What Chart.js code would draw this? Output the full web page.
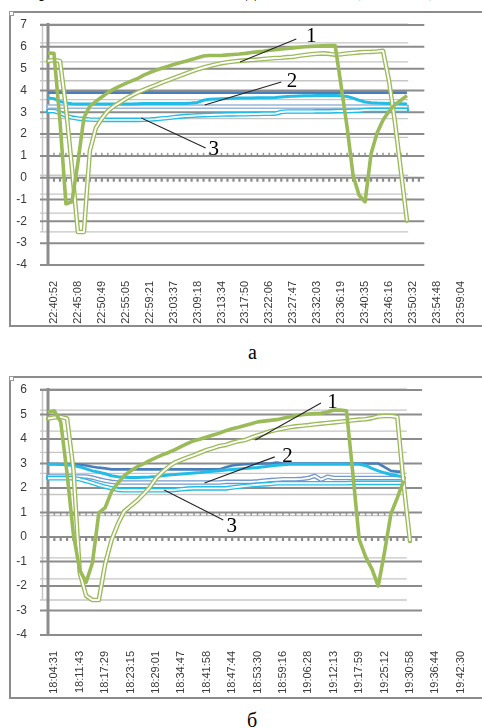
<!DOCTYPE html>
<html><head><meta charset="utf-8">
<script src="https://cdn.jsdelivr.net/npm/chart.js@4.4.1/dist/chart.umd.min.js"></script>
<style>
html,body{margin:0;padding:0;background:#fff;}
body{width:482px;height:728px;position:relative;overflow:hidden;}
.frame{position:absolute;left:9px;width:540px;border:2px solid #8c8c8c;box-sizing:border-box;}
.handle{position:absolute;width:5px;height:5px;border:1px solid #9a9a9a;background:#fff;box-sizing:border-box}
canvas{position:absolute;left:0;}
.cap{position:absolute;font-family:"Liberation Serif","DejaVu Serif",serif;font-size:20px;line-height:20px;color:#000;white-space:nowrap}
</style></head>
<body>
<div class="cap" style="left:39px;top:-21px">р</div>
<div class="cap" style="left:246px;top:-21px">д</div>
<div class="cap" style="left:354px;top:-21px">(</div>
<div class="cap" style="left:429px;top:-21px">)</div>

<div class="frame" style="top:11px;height:316px"></div>
<div class="handle" style="left:9px;top:11px"></div>
<canvas id="chartA" width="482" height="330" style="top:0"></canvas>
<div class="cap" style="left:248px;top:342px">а</div>

<div class="frame" style="top:376px;height:323px"></div>
<div class="handle" style="left:9px;top:376px"></div>
<canvas id="chartB" width="482" height="335" style="top:365px"></canvas>
<div class="cap" style="left:247px;top:710px">б</div>

<script>
// ---------- Panel (а) ----------
const timeLabelsA = ['22:40:52','22:45:08','22:50:49','22:55:05','22:59:21','23:03:37','23:09:18','23:13:34','23:17:50','23:22:06','23:27:47','23:32:03','23:36:19','23:40:35','23:46:16','23:50:32','23:54:48','23:59:04'];
const yTicksA = [7, -4];
const greenA = [5.72,5.7,2.6,-1.2,-1.1,0.7,2.75,3.28,3.5,3.7,3.9,4.06,4.2,4.32,4.44,4.55,4.7,4.82,4.92,5.02,5.1,5.19,5.27,5.34,5.42,5.5,5.58,5.6,5.6,5.6,5.63,5.65,5.67,5.7,5.74,5.77,5.8,5.84,5.87,5.9,5.93,5.95,5.98,6.0,6.02,6.04,6.05,6.06,6.06,4.2,2.3,0.1,-0.8,-1.1,1.1,2.05,2.65,3.05,3.35,3.55,3.76];
const greenDoubleA = [5.05,5.1,5.05,2.6,-0.6,-4.0,-4.0,0.3,1.5,2.0,2.4,2.65,2.85,3.05,3.22,3.38,3.52,3.65,3.77,3.9,4.02,4.14,4.26,4.38,4.5,4.6,4.7,4.78,4.86,4.93,4.98,5.02,5.05,5.08,5.1,5.12,5.15,5.18,5.2,5.22,5.25,5.27,5.32,5.36,5.4,5.43,5.45,5.42,5.38,5.4,5.44,5.47,5.5,5.52,5.53,5.55,5.58,4.0,1.8,-0.8,-3.4];
const cyanA = [3.66,3.62,3.5,3.42,3.39,3.38,3.38,3.38,3.38,3.38,3.38,3.38,3.38,3.38,3.38,3.39,3.4,3.4,3.4,3.4,3.4,3.4,3.4,3.4,3.42,3.45,3.55,3.6,3.61,3.62,3.63,3.64,3.65,3.65,3.65,3.66,3.66,3.67,3.68,3.7,3.72,3.74,3.75,3.76,3.76,3.77,3.77,3.77,3.77,3.76,3.72,3.65,3.55,3.47,3.44,3.42,3.41,3.4,3.4,3.39,3.38];
const blueA = [3.9,3.9,3.9,3.9,3.9,3.9,3.9,3.9,3.9,3.9,3.9,3.9,3.9,3.9,3.9,3.9,3.9,3.9,3.9,3.9,3.9,3.9,3.9,3.9,3.9,3.9,3.9,3.9,3.9,3.9,3.9,3.9,3.9,3.9,3.9,3.9,3.9,3.9,3.9,3.9,3.9,3.9,3.9,3.9,3.9,3.9,3.9,3.9,3.9,3.9,3.9,3.9,3.9,3.9,3.9,3.9,3.9,3.9,3.9,3.9,3.9];
const cyanDoubleA = [2.4,2.4,2.3,2.15,2.05,2.0,1.97,1.95,1.94,1.93,1.93,1.93,1.93,1.93,1.93,1.93,1.94,1.95,1.97,2.0,2.03,2.07,2.1,2.13,2.15,2.17,2.18,2.19,2.2,2.21,2.22,2.22,2.23,2.23,2.24,2.24,2.25,2.25,2.26,2.35,2.37,2.37,2.37,2.37,2.37,2.38,2.38,2.38,2.39,2.4,2.4,2.41,2.42,2.45,2.46,2.46,2.46,2.46,2.46,2.46,2.46];
const lightBlueDoubleA = [2.63,2.63,2.63,2.63,2.63,2.63,2.63,2.63,2.63,2.63,2.63,2.63,2.63,2.63,2.63,2.63,2.63,2.63,2.63,2.63,2.63,2.63,2.63,2.63,2.63,2.63,2.63,2.63,2.63,2.63,2.63,2.63,2.63,2.63,2.63,2.63,2.63,2.63,2.63,2.63,2.63,2.63,2.63,2.63,2.63,2.63,2.63,2.63,2.63,2.63,2.63,2.63,2.63,2.63,2.63,2.63,2.63,2.63,2.63,2.63,2.63];

// ---------- Panel (б) ----------
const timeLabelsB = ['18:04:31','18:11:43','18:17:29','18:23:15','18:29:01','18:34:47','18:41:58','18:47:44','18:53:30','18:59:16','19:06:28','19:12:13','19:17:59','19:25:12','19:30:58','19:36:44','19:42:30'];
const yTicksB = [6, -4];
const greenB = [5.1,5.15,4.7,2.6,0.1,-1.35,-1.85,-1.05,0.98,1.2,1.85,2.2,2.5,2.7,2.86,2.98,3.12,3.24,3.35,3.45,3.57,3.7,3.82,3.93,4.0,4.08,4.16,4.24,4.34,4.42,4.48,4.55,4.62,4.7,4.73,4.76,4.79,4.85,4.9,4.95,4.99,5.02,5.04,5.05,5.1,5.18,5.18,5.15,2.6,-0.1,-0.8,-1.3,-2.0,-0.6,0.95,1.6,2.3];
const greenDoubleB = [4.6,4.65,4.68,4.6,2.2,-2.7,-3.8,-4.0,-4.0,-2.3,-1.16,-0.4,0.2,0.45,0.7,1.0,1.33,1.76,2.07,2.32,2.52,2.64,2.76,2.87,2.99,3.11,3.2,3.3,3.35,3.45,3.53,3.58,3.7,3.8,3.9,4.0,4.07,4.13,4.19,4.23,4.26,4.29,4.33,4.36,4.39,4.42,4.45,4.48,4.52,4.55,4.57,4.62,4.7,4.72,4.72,4.68,1.5,-1.2];
const cyanB = [2.97,2.97,2.96,2.95,2.92,2.86,2.78,2.7,2.64,2.58,2.5,2.46,2.44,2.43,2.43,2.44,2.45,2.47,2.5,2.53,2.55,2.57,2.59,2.61,2.63,2.66,2.68,2.7,2.73,2.76,2.78,2.8,2.82,2.84,2.87,2.9,2.93,2.95,2.97,2.97,2.97,2.97,2.97,2.97,2.97,2.97,2.97,2.97,2.97,2.97,2.92,2.8,2.7,2.62,2.55,2.5,2.45];
const blueB = [2.98,2.98,2.98,2.98,2.98,2.95,2.92,2.87,2.83,2.8,2.76,2.76,2.76,2.76,2.76,2.76,2.76,2.76,2.76,2.76,2.76,2.76,2.76,2.76,2.76,2.76,2.76,2.76,2.85,2.92,2.95,2.97,2.98,2.99,3.0,3.0,3.04,3.0,3.0,3.0,3.0,3.0,3.0,3.0,3.0,3.0,3.0,3.0,3.0,3.0,3.0,3.0,3.0,2.85,2.7,2.67,2.67];
const cyanDoubleB = [1.77,1.77,1.77,1.77,1.77,1.72,1.64,1.55,1.45,1.37,1.3,1.22,1.2,1.2,1.2,1.2,1.2,1.2,1.2,1.2,1.22,1.25,1.28,1.29,1.29,1.29,1.29,1.29,1.29,1.33,1.37,1.4,1.43,1.46,1.48,1.5,1.53,1.53,1.53,1.53,1.53,1.53,1.53,1.53,1.53,1.53,1.53,1.53,1.55,1.55,1.55,1.55,1.55,1.55,1.55,1.55,1.55];
const blueDoubleB = [1.85,1.85,1.85,1.85,1.85,1.85,1.85,1.8,1.72,1.65,1.6,1.57,1.57,1.57,1.57,1.57,1.57,1.57,1.57,1.57,1.57,1.57,1.57,1.57,1.57,1.57,1.57,1.57,1.6,1.6,1.6,1.6,1.6,1.62,1.65,1.68,1.7,1.72,1.72,1.72,1.74,1.78,1.88,1.7,1.84,1.78,1.78,1.78,1.78,1.78,1.78,1.78,1.78,1.78,1.78,1.78,1.78];

// ---------- helpers ----------
const CAT_PER_LABEL = 4;
function buildCategories(labels) {
  const n = labels.length * CAT_PER_LABEL - 2;
  const cats = new Array(n).fill('');
  labels.forEach((l, k) => { cats[1 + k * CAT_PER_LABEL] = l; });
  return cats;
}
const C = { green: '#9BBB59', cyan: '#22BDE6', blue: '#4A7EBB', light: '#98B6DA', blue2: '#7399CF' };
function solid(data, color, width, order, axis) {
  return { data, borderColor: color, borderWidth: width, order, yAxisID: axis, pointRadius: 0, fill: false };
}
function hollow(data, color, order, axis) {
  return [
    { data, borderColor: color, borderWidth: 4.6, order: order + 1, yAxisID: axis, pointRadius: 0, borderCapStyle: 'round' },
    { data, borderColor: '#ffffff', borderWidth: 1.9, order, yAxisID: axis, pointRadius: 0, borderCapStyle: 'butt' }
  ];
}

const excelFrame = {
  id: 'excelFrame',
  beforeDatasetsDraw(chart, args, o) {
    const { ctx, chartArea } = chart;
    const xs = chart.scales.x, ys = chart.scales.y, ys2 = chart.scales.y2;
    const L = chartArea.left;
    const h = (x1, x2, y, c, w) => { ctx.strokeStyle = c; ctx.lineWidth = w; ctx.beginPath(); ctx.moveTo(x1, y); ctx.lineTo(x2, y); ctx.stroke(); };
    const v = (x, y1, y2, c, w) => { ctx.strokeStyle = c; ctx.lineWidth = w; ctx.beginPath(); ctx.moveTo(x, y1); ctx.lineTo(x, y2); ctx.stroke(); };
    ctx.save();
    ctx.lineCap = 'butt';
    const r1 = xs.getPixelForValue(o.primaryEnd), r2 = xs.getPixelForValue(o.secondaryEnd);
    // secondary (overlaid) grid
    for (let t = o.y2Top; t >= o.y2Bottom; t--) h(L - 8, r2, ys2.getPixelForValue(t), o.minor, 1.3);
    v(L - 5.5, ys2.getPixelForValue(o.y2Top), ys2.getPixelForValue(o.y2Bottom), o.minor, 1.5);
    const z2 = ys2.getPixelForValue(0);
    for (let i = 0; i <= o.secondaryEnd; i++) v(xs.getPixelForValue(i), z2 - 3.5, z2, '#9a9a9a', 1.6);
    // primary grid
    for (let t = ys.max; t >= ys.min; t--) h(L - 8, r1, ys.getPixelForValue(t), o.major, 2);
    const z = ys.getPixelForValue(0);
    for (let i = 0; i <= o.primaryEnd; i++) v(xs.getPixelForValue(i), z, z + 4, o.major, 2.2);
    v(L, ys.getPixelForValue(ys.max) - 2, ys.getPixelForValue(ys.min) + 1, o.major, 3);
    ctx.restore();
  },
  afterDatasetsDraw(chart, args, o) {
    const { ctx } = chart;
    const xs = chart.scales.x, ys = chart.scales.y;
    ctx.save();
    o.notes.forEach(n => {
      ctx.strokeStyle = '#262626'; ctx.lineWidth = 1.1;
      ctx.beginPath();
      ctx.moveTo(xs.getPixelForValue(n.from[0]), ys.getPixelForValue(n.from[1]));
      ctx.lineTo(xs.getPixelForValue(n.to[0]), ys.getPixelForValue(n.to[1]));
      ctx.stroke();
      ctx.font = '21px "Liberation Serif"'; ctx.fillStyle = '#000';
      ctx.textAlign = 'center'; ctx.textBaseline = 'alphabetic';
      ctx.fillText(n.text, xs.getPixelForValue(n.at[0]), ys.getPixelForValue(n.at[1]));
    });
    ctx.restore();
  }
};

function makeChart(id, cfg) {
  return new Chart(document.getElementById(id), {
    type: 'line',
    data: { labels: buildCategories(cfg.labels), datasets: cfg.datasets },
    options: {
      responsive: false, animation: false, devicePixelRatio: 1,
      layout: { padding: { top: 25, right: cfg.padRight, bottom: 0, left: 0 } },
      elements: { point: { radius: 0 }, line: { tension: 0, borderJoinStyle: 'round' } },
      plugins: { legend: { display: false }, tooltip: { enabled: false }, excelFrame: cfg.frame },
      scales: {
        x: {
          type: 'category', offset: false,
          grid: { display: false }, border: { display: false },
          ticks: { autoSkip: false, minRotation: 90, maxRotation: 90, padding: 8, color: '#3a3a3a',
                   font: { family: 'Liberation Sans', size: 11 } },
          afterFit: s => { s.height = 65; }
        },
        y: {
          min: cfg.yTicks[1], max: cfg.yTicks[0],
          grid: { display: false }, border: { display: false },
          ticks: { stepSize: 1, padding: 13, color: '#3a3a3a', font: { family: 'Liberation Sans', size: 12 } },
          afterFit: s => { s.width = 48; }
        },
        y2: { display: false, position: 'right', min: cfg.y2Range[0], max: cfg.y2Range[1] }
      }
    },
    plugins: [excelFrame]
  });
}

makeChart('chartA', {
  labels: timeLabelsA, yTicks: yTicksA, y2Range: [-5.75, 6.95], padRight: 15,
  datasets: [
    solid(greenA, C.green, 3.6, 0, 'y'),
    ...hollow(greenDoubleA, C.green, 1, 'y2'),
    solid(cyanA, C.cyan, 3, 3, 'y'),
    solid(blueA, C.blue, 2.6, 4, 'y'),
    ...hollow(cyanDoubleA, C.cyan, 5, 'y2'),
    ...hollow(lightBlueDoubleA, C.light, 7, 'y2')
  ],
  frame: {
    primaryEnd: 62.9, secondaryEnd: 60.2, y2Top: 7, y2Bottom: -4,
    major: '#8c8c8c', minor: '#c6c6c6',
    notes: [
      { text: '1', from: [32.1, 5.30], to: [41.5, 6.36], at: [44.0, 6.22] },
      { text: '2', from: [26.2, 3.33], to: [39.0, 4.39], at: [40.8, 4.16] },
      { text: '3', from: [15.6, 2.74], to: [26.35, 1.36], at: [27.7, 1.04] }
    ]
  }
});

makeChart('chartB', {
  labels: timeLabelsB, yTicks: yTicksB, y2Range: [-5.66, 5.953], padRight: 12,
  datasets: [
    solid(greenB, C.green, 3.6, 0, 'y'),
    ...hollow(greenDoubleB, C.green, 1, 'y2'),
    solid(cyanB, C.cyan, 3, 3, 'y'),
    solid(blueB, C.blue, 2.6, 4, 'y'),
    ...hollow(cyanDoubleB, C.cyan, 5, 'y2'),
    ...hollow(blueDoubleB, C.blue2, 7, 'y2')
  ],
  frame: {
    primaryEnd: 58.9, secondaryEnd: 56.5, y2Top: 6, y2Bottom: -4,
    major: '#8c8c8c', minor: '#c6c6c6',
    notes: [
      { text: '1', from: [32.65, 3.96], to: [42.98, 5.47], at: [44.8, 5.27] },
      { text: '2', from: [24.65, 2.2], to: [35.7, 3.27], at: [37.7, 3.06] },
      { text: '3', from: [18.3, 1.92], to: [27.6, 0.69], at: [28.95, 0.2] }
    ]
  }
});
</script>
</body></html>
